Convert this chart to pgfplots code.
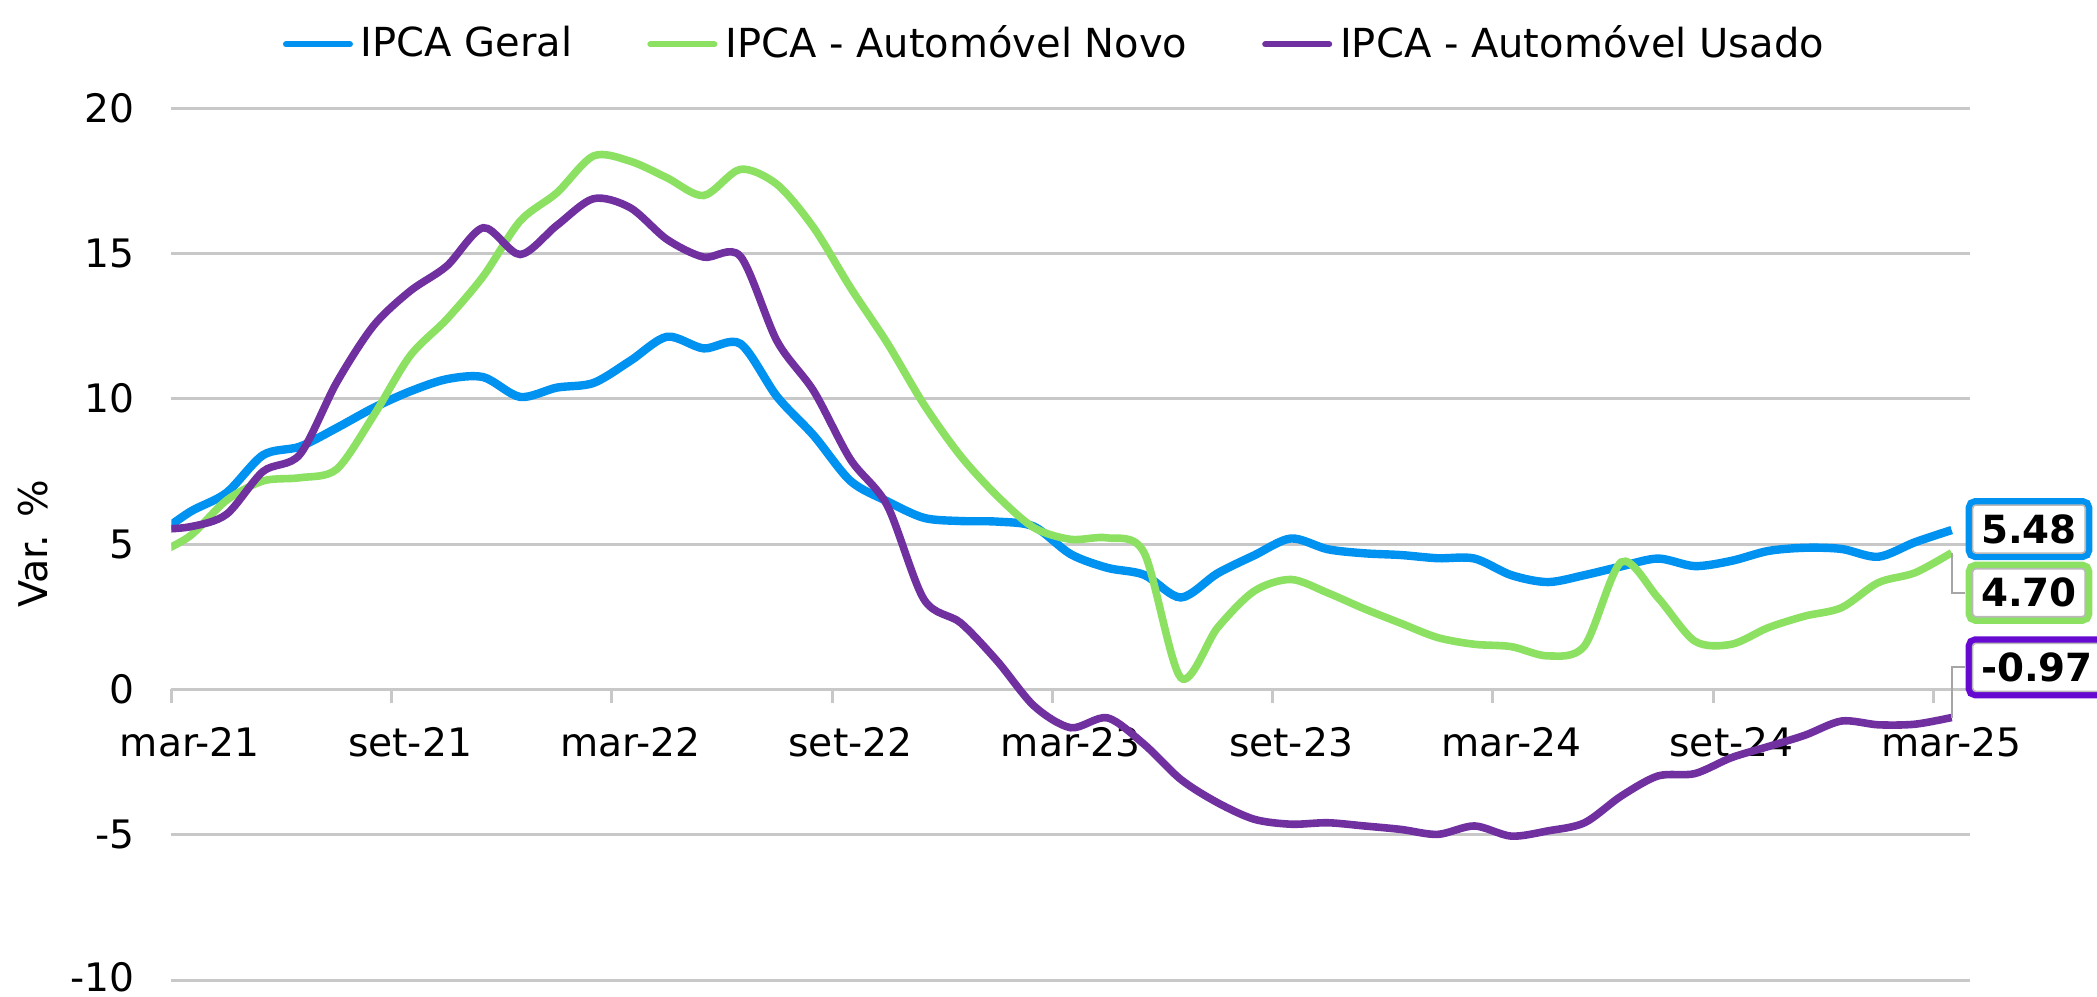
\documentclass[border=0pt]{standalone}
\usepackage{fontspec}
\setmainfont{DejaVu Sans}
\usepackage{pgfplots}
\pgfplotsset{compat=1.18}
\definecolor{cB}{RGB}{0,146,240}
\definecolor{cG}{RGB}{140,224,98}
\definecolor{cP}{RGB}{112,48,160}
\definecolor{cPb}{RGB}{102,10,210}
\definecolor{gridc}{RGB}{200,200,200}
\pgfplotstableread{
x y
-0.5 5.20
0.5 6.10
1.5 6.76
2.5 8.06
3.5 8.35
4.5 8.99
5.5 9.68
6.5 10.25
7.5 10.67
8.5 10.74
9.5 10.06
10.5 10.38
11.5 10.54
12.5 11.30
13.5 12.13
14.5 11.73
15.5 11.89
16.5 10.07
17.5 8.73
18.5 7.17
19.5 6.47
20.5 5.90
21.5 5.79
22.5 5.77
23.5 5.60
24.5 4.65
25.5 4.18
26.5 3.94
27.5 3.16
28.5 3.99
29.5 4.61
30.5 5.19
31.5 4.82
32.5 4.68
33.5 4.62
34.5 4.51
35.5 4.50
36.5 3.93
37.5 3.69
38.5 3.93
39.5 4.23
40.5 4.50
41.5 4.24
42.5 4.42
43.5 4.76
44.5 4.87
45.5 4.83
46.5 4.56
47.5 5.06
48.5 5.48
}\geral
\pgfplotstableread{
x y
-0.5 4.6
0.5 5.27
1.5 6.5
2.5 7.17
3.5 7.28
4.5 7.57
5.5 9.40
6.5 11.47
7.5 12.73
8.5 14.22
9.5 16.11
10.5 17.08
11.5 18.35
12.5 18.17
13.5 17.60
14.5 16.99
15.5 17.89
16.5 17.37
17.5 15.88
18.5 13.82
19.5 11.92
20.5 9.80
21.5 8.03
22.5 6.65
23.5 5.56
24.5 5.16
25.5 5.21
26.5 4.7
27.5 0.40
28.5 2.12
29.5 3.38
30.5 3.78
31.5 3.32
32.5 2.77
33.5 2.27
34.5 1.78
35.5 1.55
36.5 1.47
37.5 1.15
38.5 1.5
39.5 4.38
40.5 3.15
41.5 1.66
42.5 1.55
43.5 2.12
44.5 2.52
45.5 2.81
46.5 3.67
47.5 4.01
48.5 4.70
}\novo
\pgfplotstableread{
x y
-0.5 5.5
0.5 5.59
1.5 6.02
2.5 7.5
3.5 8.08
4.5 10.55
5.5 12.50
6.5 13.70
7.5 14.56
8.5 15.88
9.5 14.96
10.5 15.96
11.5 16.88
12.5 16.57
13.5 15.48
14.5 14.87
15.5 14.90
16.5 11.98
17.5 10.26
18.5 7.91
19.5 6.33
20.5 3.10
21.5 2.29
22.5 0.97
23.5 -0.57
24.5 -1.32
25.5 -0.98
26.5 -1.89
27.5 -3.10
28.5 -3.90
29.5 -4.47
30.5 -4.64
31.5 -4.59
32.5 -4.70
33.5 -4.82
34.5 -4.99
35.5 -4.70
36.5 -5.05
37.5 -4.87
38.5 -4.59
39.5 -3.67
40.5 -2.98
41.5 -2.90
42.5 -2.35
43.5 -1.97
44.5 -1.58
45.5 -1.09
46.5 -1.22
47.5 -1.20
48.5 -0.97
}\usado
\tikzset{vbox/.style={anchor=west, fill=white, draw=gray!55, line width=0.4pt,
  inner xsep=2.1pt, inner ysep=0pt, minimum height=12pt, rounded corners=0.8pt,
  font=\bfseries\fontsize{9.7}{10}\selectfont, text=black}}
\begin{document}
\begin{tikzpicture}
\useasboundingbox (-42.85pt,-4.0pt) rectangle (481.4pt,245.0pt);
\begin{axis}[
  at={(0,0)}, anchor=south west, scale only axis,
  width=449.65pt, height=218pt,
  xmin=0, xmax=49, ymin=-10, ymax=20,
  axis x line*=middle, axis y line*=left,
  hide obscured x ticks=false, hide obscured y ticks=false,
  x axis line style={gridc, line width=0.75pt, -},
  y axis line style={draw=none},
  xtick={0,6,...,48},
  xticklabels={mar-21,set-21,mar-22,set-22,mar-23,set-23,mar-24,set-24,mar-25},
  xtick style={gridc, line width=0.75pt},
  xtick align=outside,
  major tick length=3.5pt,
  ytick={-10,-5,0,5,10,15,20},
  yticklabels={\raisebox{1.3pt}{-10},-5,0,5,10,15,20},
  ytick style={draw=none},
  ymajorgrids, grid style={gridc, line width=0.75pt},
  tick label style={font=\fontsize{9.8}{11}\selectfont, text=black},
  xticklabel style={xshift=4.6pt, yshift=-2.6pt},
  yticklabel style={xshift=-5.6pt, inner ysep=0pt},
  ylabel={Var. \%},
  ylabel style={at={(axis description cs:-0.0767,0.5)}, anchor=center, rotate=0, font=\fontsize{9.9}{11}\selectfont},
  legend style={at={(axis description cs:0.4927,1.073)}, anchor=center, draw=none, fill=none,
    font=\fontsize{10}{12}\selectfont, legend columns=3,
    /tikz/every even column/.append style={column sep=16.7pt}},
  legend image code/.code={\draw[#1, line width=1.5pt, line cap=round] (0pt,0pt) -- (16pt,0pt);},
]
\addplot[cB, line width=2.1pt, smooth] table[x=x,y=y] {\geral};
\addlegendentry{IPCA Geral}
\addplot[cG, line width=1.9pt, smooth] table[x=x,y=y] {\novo};
\addlegendentry{IPCA - Automóvel Novo}
\addplot[cP, line width=1.9pt, smooth] table[x=x,y=y] {\usado};
\addlegendentry{IPCA - Automóvel Usado}
\coordinate (eG) at (axis cs:48.5,4.70);
\coordinate (eP) at (axis cs:48.5,-0.97);
\coordinate (lG) at (axis cs:48.86,3.323);
\coordinate (lP) at (axis cs:48.86,0.757);
\coordinate (bB) at (axis cs:49.05,5.514);
\coordinate (bG) at (axis cs:49.05,3.323);
\coordinate (bP) at (axis cs:49.05,0.757);
\end{axis}
\draw[gray!70, line width=0.5pt] (eG) |- (lG);
\draw[gray!70, line width=0.5pt] (eP) |- (lP);
\node[vbox, minimum width=28.15pt, preaction={draw=cB, line width=3.5pt}] at (bB) {5.48};
\node[vbox, minimum width=28.15pt, preaction={draw=cG, line width=3.5pt}] at (bG) {4.70};
\node[vbox, preaction={draw=cPb, line width=3.5pt}] at (bP) {-0.97};
\end{tikzpicture}
\end{document}
